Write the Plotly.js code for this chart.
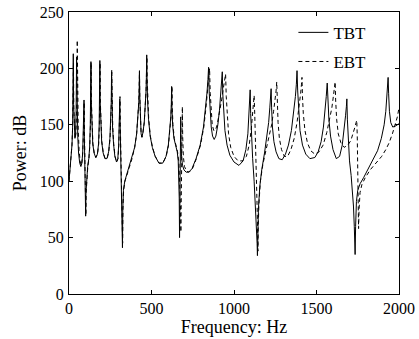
<!DOCTYPE html>
<html>
<head>
<meta charset="utf-8">
<script src="https://cdn.plot.ly/plotly-3.0.1.min.js"></script>
<style>html,body{margin:0;padding:0;background:#fff;}#chart{width:419px;height:339px;}</style>
</head>
<body>
<div id="chart"></div>
<script>
// TBT (solid) — frequency (Hz) and power (dB)
var tbtFreq = [0,5,12,18,22,24,26,28,31,36,40,43,46,49,53,58,65,72,78,83,87,89,91,93,96,99,101,103,107,113,120,125,129,131,133,135,138,144,152,162,172,179,183,185,187,189,192,198,207,218,230,240,248,253,256,258,260,264,270,278,288,296,301,304,306,308,310,313,317,320,322,324,326,330,338,350,365,382,398,410,418,423,425,427,429,432,437,442,448,456,463,467,469,471,473,476,482,492,505,522,545,568,588,602,612,617,620,622,624,628,636,646,656,662,666,668,670,672,674,676,677,679,682,688,697,710,725,745,770,795,815,828,836,842,846,850,855,862,870,880,890,902,912,920,925,929,932,937,945,958,975,1000,1030,1055,1072,1084,1091,1095,1098,1101,1106,1113,1122,1130,1136,1140,1142,1144,1148,1156,1168,1185,1200,1210,1217,1221,1225,1228,1233,1242,1255,1272,1292,1312,1330,1348,1362,1372,1378,1382,1386,1391,1400,1415,1435,1460,1490,1510,1528,1542,1552,1559,1565,1569,1575,1585,1600,1620,1640,1656,1668,1676,1681,1684,1687,1692,1700,1710,1718,1724,1729,1734,1737,1742,1750,1765,1785,1810,1840,1870,1893,1910,1920,1927,1931,1934,1937,1942,1950,1962,1980,2000];
var tbtPower = [100,108,120,132,148,165,213,168,148,138,142,160,210,165,140,125,116,113,116,125,140,155,172,140,112,90,69,90,105,113,120,130,150,168,206,170,148,133,125,121,124,133,150,168,207,170,150,135,125,120,120,126,138,155,170,197,170,148,133,122,117,120,132,148,160,173,150,128,110,92,75,41,75,92,100,106,112,120,130,142,155,170,180,198,175,155,142,139,143,152,165,180,192,212,190,172,155,140,130,122,116,116,122,132,145,157,168,184,165,150,138,132,126,118,105,85,50,85,110,135,157,135,122,114,110,108,108,111,120,132,148,165,178,190,201,178,160,148,140,137,140,150,163,178,188,197,178,160,145,132,123,117,114,118,128,142,157,170,181,160,140,120,100,80,62,45,34,55,75,95,110,125,140,152,165,175,182,165,148,135,126,120,119,124,132,145,160,175,186,198,180,162,145,132,124,120,121,126,135,148,162,175,187,170,155,140,128,120,122,132,145,158,166,173,155,135,118,105,92,78,60,35,60,82,92,98,103,110,118,127,138,150,162,175,185,192,178,162,152,148,149,151];

// EBT (dashed)
var ebtFreq = [0,5,12,18,22,24,27,29,32,37,42,46,48,50,52,56,61,68,75,81,86,89,92,94,97,100,102,104,108,114,121,126,130,132,134,136,139,145,153,163,173,180,184,186,188,190,193,199,208,219,231,241,249,254,257,259,261,265,271,279,289,297,302,305,307,309,311,314,318,321,323,325,327,331,339,350,365,382,398,410,418,423,425,427,429,432,437,442,448,456,463,467,469,472,474,477,483,493,506,523,546,569,589,603,613,618,621,624,626,630,638,648,658,666,671,675,678,680,683,685,687,689,693,700,712,728,748,772,797,817,830,839,846,852,856,861,868,877,887,898,912,925,935,942,949,953,958,967,980,1000,1025,1050,1075,1092,1104,1112,1117,1122,1126,1131,1136,1140,1143,1145,1147,1151,1160,1175,1190,1210,1228,1240,1250,1255,1259,1262,1267,1275,1288,1305,1325,1345,1365,1382,1395,1404,1409,1412,1415,1420,1430,1445,1465,1490,1515,1540,1562,1580,1593,1602,1608,1613,1616,1622,1632,1648,1668,1690,1708,1722,1733,1740,1744,1747,1750,1753,1755,1758,1764,1775,1795,1825,1860,1895,1920,1940,1960,1978,1990,2000];
var ebtPower = [100,108,120,132,148,162,205,165,148,138,142,158,175,225,175,145,128,117,114,120,135,150,170,140,112,90,70,90,105,113,120,131,150,168,205,170,148,133,125,121,124,133,150,168,205,170,150,135,125,120,120,126,138,155,170,199,170,148,133,122,117,120,132,148,160,175,150,128,110,92,75,45,75,92,100,106,112,120,130,142,155,170,182,197,175,155,142,139,143,152,165,180,192,210,190,172,155,140,130,122,116,116,122,132,145,157,168,184,165,150,138,132,126,116,100,80,55,80,120,145,166,140,122,113,109,108,111,120,132,148,165,178,190,200,178,160,150,145,145,150,160,172,182,188,195,175,158,142,130,122,118,118,122,132,145,158,168,176,158,135,105,78,55,38,60,80,100,115,125,138,150,162,172,180,188,170,152,138,128,122,122,128,138,152,165,178,186,192,175,160,145,134,127,124,126,132,143,155,165,175,182,188,172,155,142,134,130,132,136,142,148,152,154,140,110,80,58,75,90,97,103,110,116,122,128,134,142,150,157,165];

var xTicks = [0, 500, 1000, 1500, 2000];
var yTicks = [0, 50, 100, 150, 200, 250];

var fontFam = 'Liberation Serif, Times New Roman, serif';

var traces = [
  {x: tbtFreq, y: tbtPower, name: 'TBT', type: 'scatter', mode: 'lines', legendgroup: 'a',
   line: {color: '#000', width: 1}},
  {x: ebtFreq, y: ebtPower, name: 'EBT', type: 'scatter', mode: 'lines', legendgroup: 'b',
   line: {color: '#000', width: 1, dash: '4px,3px'}}
];

var axisCommon = {
  showgrid: false, zeroline: false, showline: true, linecolor: '#000', linewidth: 1,
  mirror: 'ticks', ticks: 'inside', ticklen: 4, tickcolor: '#000', tickwidth: 1,
  tickfont: {family: fontFam, size: 16, color: '#000'}
};

var layout = {
  width: 419, height: 339,
  margin: {l: 69, r: 20, t: 12, b: 45},
  paper_bgcolor: '#fff', plot_bgcolor: '#fff',
  showlegend: true,
  legend: {x: 0.68, y: 0.99, xanchor: 'left', yanchor: 'top', bgcolor: 'rgba(0,0,0,0)',
           traceorder: 'grouped', tracegroupgap: 4,
           font: {family: fontFam, size: 17, color: '#000'}, borderwidth: 0},
  xaxis: Object.assign({}, axisCommon, {range: [0, 2000], tickvals: xTicks, ticktext: xTicks.map(String),
    title: {text: 'Frequency: Hz', font: {family: fontFam, size: 18, color: '#000'}, standoff: 2}}),
  yaxis: Object.assign({}, axisCommon, {range: [0, 250], tickvals: yTicks, ticktext: yTicks.map(String),
    ticklabelstandoff: 1,
    title: {text: 'Power: dB', font: {family: fontFam, size: 18, color: '#000'}, standoff: 8}})
};

Plotly.newPlot('chart', traces, layout, {displayModeBar: false, staticPlot: true});
</script>
</body>
</html>
